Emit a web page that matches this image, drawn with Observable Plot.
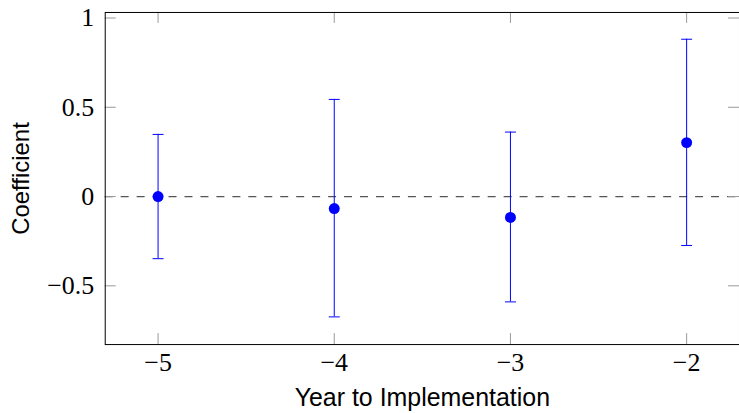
<!DOCTYPE html>
<html><head><meta charset="utf-8">
<script src="https://cdn.jsdelivr.net/npm/d3@7"></script>
<script src="https://cdn.jsdelivr.net/npm/@observablehq/plot@0.6"></script>
<style>
body{margin:0;background:#fff;}
#wrap{width:739px;height:413px;overflow:hidden;position:relative;background:#fff;}
</style></head><body><div id="wrap"></div>
<script>
const years = [-5, -4, -3, -2];
const coef = [0.0, -0.067, -0.117, 0.302];
const ciLow = [-0.348, -0.674, -0.590, -0.274];
const ciHigh = [0.348, 0.544, 0.361, 0.881];
const xTicks = [-5, -4, -3, -2];
const xTickLabels = ["−5", "−4", "−3", "−2"];
const yTicks = [-0.5, 0, 0.5, 1];
const yTickLabels = ["−0.5", "0", "0.5", "1"];
const xLabel = "Year to Implementation";
const yLabel = "Coefficient";

const data = years.map((y, i) => ({year: y, coef: coef[i], low: ciLow[i], high: ciHigh[i]}));

const W = 741, H = 413, mL = 105, mR = 0, mT = 12, mB = 68;
const innerW = W - mL - mR, innerH = H - mT - mB;
const tickLen = 11;
const capSymbol = {draw(ctx, size) { const h = Math.sqrt(size / Math.PI); ctx.moveTo(-h, 0); ctx.lineTo(h, 0); }};
const serif = "'Liberation Serif', 'DejaVu Serif', serif";
const sans = "'Liberation Sans', 'DejaVu Sans', sans-serif";

const chart = Plot.plot({
  width: W, height: H,
  marginLeft: mL, marginRight: mR, marginTop: mT, marginBottom: mB,
  x: {domain: [-5.3, -1.7]},
  y: {domain: [-0.829, 1.031]},
  style: {background: "#fff"},
  marks: [
    Plot.ruleY([0], {stroke: "#555", strokeWidth: 1.2, strokeDasharray: "8,8"}),
    Plot.tickX(xTicks, {x: d => d, insetTop: innerH - tickLen, stroke: "#999"}),
    Plot.tickX(xTicks, {x: d => d, insetBottom: innerH - tickLen, stroke: "#999"}),
    Plot.tickY(yTicks, {y: d => d, insetRight: innerW - tickLen, stroke: "#999"}),
    Plot.tickY(yTicks, {y: d => d, insetLeft: innerW - tickLen, stroke: "#999"}),
    Plot.axisX(xTicks, {tickSize: 0, tickPadding: 8, fontSize: 26, fontFamily: serif, fill: "#000",
      tickFormat: d => xTickLabels[xTicks.indexOf(d)], label: null}),
    Plot.axisY(yTicks, {tickSize: 0, tickPadding: 11, fontSize: 26, fontFamily: serif, fill: "#000",
      tickFormat: d => yTickLabels[yTicks.indexOf(d)], label: null}),
    Plot.ruleX(data, {x: "year", y1: "low", y2: "high", stroke: "blue", strokeWidth: 1}),
    Plot.dot(data, {x: "year", y: "low", symbol: capSymbol, r: 5.5, stroke: "blue", fill: "none", strokeWidth: 1}),
    Plot.dot(data, {x: "year", y: "high", symbol: capSymbol, r: 5.5, stroke: "blue", fill: "none", strokeWidth: 1}),
    Plot.dot(data, {x: "year", y: "coef", r: 5.5, fill: "blue", stroke: "none"}),
    Plot.frame({stroke: "#000", strokeWidth: 1}),
    Plot.text([xLabel], {frameAnchor: "bottom", dy: 54, text: d => d, fontSize: 25, fontFamily: sans, fill: "#000", lineAnchor: "middle"}),
    Plot.text([yLabel], {frameAnchor: "left", dx: -84, rotate: -90, text: d => d, fontSize: 24, fontFamily: sans, fill: "#000", textAnchor: "middle", lineAnchor: "middle"})
  ]
});
document.getElementById("wrap").appendChild(chart);
</script>
</body></html>
